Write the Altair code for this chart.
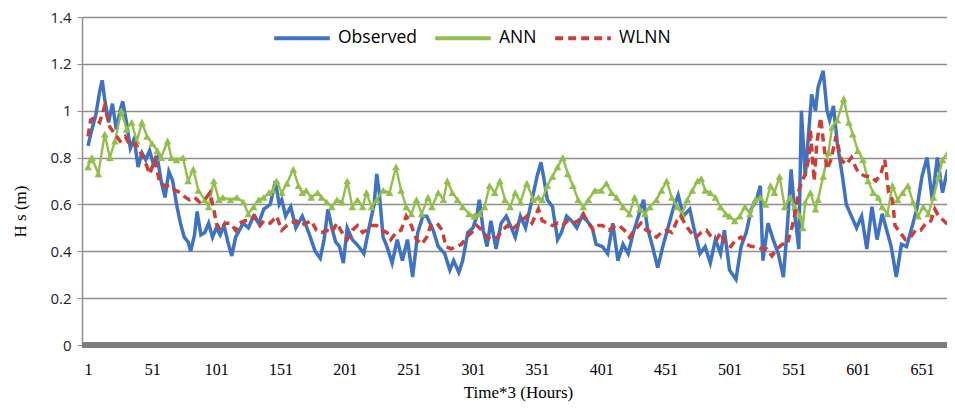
import altair as alt
import pandas as pd

SERIES = ["Observed", "ANN", "WLNN"]
COLORS = ["#3f73c1", "#92bf4c", "#c9403a"]
X_TICKS = [1, 51, 101, 151, 201, 251, 301, 351, 401, 451, 501, 551, 601, 651]
Y_TICKS = [0, 0.2, 0.4, 0.6, 0.8, 1, 1.2, 1.4]

obs_x = [1,4,7,10,12,14,17,20,23,26,28,31,34,37,40,43,46,49,52,55,58,61,64,67,70,73,76,79,81,84,86,89,92,95,98,101,104,107,110,113,116,119,122,126,130,134,138,143,147,150,152,155,159,163,168,173,178,182,185,188,191,194,197,200,203,207,212,216,220,224,226,228,231,234,238,242,246,250,254,258,262,265,270,274,279,283,286,290,293,297,301,304,306,309,312,315,319,323,327,331,334,338,342,347,351,354,356,359,363,367,370,374,378,382,386,390,394,397,402,406,410,414,418,422,426,430,434,437,441,445,449,453,457,461,465,470,474,478,482,486,490,494,497,501,506,510,514,518,522,525,527,531,535,539,543,546,549,552,555,557,560,563,565,568,570,574,577,579,582,585,589,592,596,600,604,608,612,616,620,624,627,631,635,639,643,647,651,655,659,663,667,671,675,678]
obs_y = [0.85,0.92,0.98,1.08,1.13,1.05,0.95,1.03,0.92,1.00,1.04,0.95,0.84,0.88,0.76,0.82,0.79,0.83,0.77,0.80,0.70,0.63,0.74,0.70,0.60,0.52,0.46,0.44,0.40,0.47,0.57,0.47,0.48,0.52,0.46,0.50,0.47,0.51,0.44,0.38,0.46,0.49,0.52,0.50,0.55,0.52,0.58,0.60,0.70,0.60,0.62,0.55,0.59,0.50,0.55,0.48,0.40,0.37,0.45,0.58,0.50,0.44,0.42,0.35,0.50,0.45,0.42,0.39,0.50,0.60,0.73,0.65,0.46,0.42,0.35,0.45,0.36,0.45,0.29,0.48,0.55,0.55,0.49,0.42,0.39,0.32,0.36,0.31,0.36,0.48,0.50,0.55,0.62,0.49,0.42,0.53,0.41,0.52,0.55,0.50,0.46,0.55,0.50,0.62,0.72,0.78,0.72,0.62,0.59,0.45,0.48,0.55,0.53,0.50,0.55,0.53,0.50,0.43,0.42,0.39,0.52,0.36,0.43,0.39,0.48,0.55,0.62,0.50,0.42,0.33,0.42,0.50,0.58,0.64,0.55,0.58,0.48,0.39,0.42,0.35,0.45,0.39,0.49,0.32,0.28,0.42,0.48,0.58,0.62,0.68,0.36,0.52,0.45,0.39,0.29,0.50,0.75,0.55,0.41,1.00,0.72,0.93,1.07,1.00,1.10,1.17,1.00,0.96,1.02,0.86,0.72,0.60,0.55,0.50,0.55,0.41,0.59,0.45,0.56,0.48,0.42,0.29,0.43,0.42,0.50,0.58,0.72,0.80,0.62,0.80,0.65,0.75,0.50,0.60]

ann_x = [1,3,4,9,14,18,22,27,31,35,39,43,47,51,55,58,63,66,70,75,79,83,87,92,95,99,103,106,112,117,122,126,130,134,138,142,145,148,152,156,161,165,168,171,175,180,183,187,191,195,199,203,207,211,215,218,222,226,231,236,241,245,249,253,257,261,266,269,274,278,281,285,289,293,298,302,306,310,314,318,322,326,330,334,338,343,348,352,355,359,363,367,371,375,379,383,387,391,396,401,405,409,413,418,423,427,431,435,439,444,448,452,456,460,464,468,472,476,479,482,486,490,494,498,501,505,509,513,517,521,525,529,533,536,540,544,548,552,556,558,560,564,568,570,574,578,581,585,590,594,597,601,605,609,613,617,620,624,628,632,636,640,644,648,652,656,660,664,667,671,675]
ann_y = [0.76,0.79,0.80,0.73,0.90,0.80,0.87,1.00,0.92,0.95,0.87,0.95,0.89,0.86,0.83,0.80,0.87,0.80,0.79,0.80,0.70,0.75,0.66,0.62,0.59,0.70,0.62,0.63,0.62,0.63,0.61,0.56,0.59,0.62,0.63,0.65,0.66,0.70,0.65,0.69,0.75,0.68,0.65,0.66,0.63,0.65,0.63,0.61,0.59,0.62,0.61,0.70,0.59,0.62,0.59,0.65,0.59,0.62,0.66,0.65,0.76,0.66,0.59,0.56,0.62,0.56,0.63,0.59,0.65,0.62,0.70,0.65,0.62,0.59,0.56,0.55,0.56,0.59,0.68,0.65,0.70,0.62,0.59,0.65,0.61,0.69,0.62,0.63,0.62,0.68,0.72,0.76,0.80,0.73,0.68,0.62,0.59,0.62,0.66,0.66,0.69,0.65,0.63,0.59,0.56,0.63,0.58,0.56,0.59,0.62,0.66,0.70,0.63,0.59,0.56,0.62,0.66,0.70,0.71,0.66,0.65,0.63,0.59,0.56,0.55,0.53,0.55,0.59,0.56,0.62,0.63,0.60,0.68,0.65,0.72,0.59,0.63,0.59,0.55,0.50,0.61,0.65,0.58,0.62,0.72,0.82,0.93,0.96,1.05,0.95,0.90,0.83,0.79,0.70,0.65,0.63,0.59,0.56,0.68,0.62,0.65,0.68,0.61,0.55,0.59,0.56,0.63,0.72,0.79,0.82,0.76]

wl_x = [1,3,6,10,14,18,22,26,30,34,38,42,45,49,53,57,61,65,69,73,77,80,84,88,92,96,99,101,104,108,112,116,119,123,127,131,135,138,143,148,152,156,159,163,167,171,175,179,183,187,191,195,199,203,207,211,215,218,222,226,230,234,237,241,245,249,253,257,261,265,268,273,277,280,284,288,292,296,300,304,308,312,316,320,324,328,331,335,339,343,347,352,355,359,363,367,371,375,379,383,387,391,395,399,402,407,412,415,419,423,427,432,436,440,444,448,452,456,460,463,467,471,475,479,483,487,491,494,498,502,506,510,514,518,522,526,530,534,538,542,546,550,552,555,557,560,563,564,567,569,572,575,577,580,584,588,592,596,600,603,607,611,615,619,622,625,628,630,634,638,642,646,650,654,658,661,664,668,672,676]
wl_y = [0.89,0.96,0.97,0.95,1.02,0.93,0.90,0.87,0.89,0.85,0.86,0.82,0.79,0.73,0.79,0.69,0.68,0.68,0.66,0.65,0.63,0.62,0.63,0.61,0.62,0.65,0.58,0.52,0.49,0.52,0.52,0.49,0.52,0.53,0.53,0.55,0.51,0.53,0.52,0.55,0.49,0.51,0.52,0.53,0.51,0.52,0.53,0.49,0.48,0.49,0.48,0.52,0.48,0.45,0.49,0.51,0.48,0.49,0.51,0.51,0.49,0.48,0.45,0.48,0.49,0.55,0.51,0.45,0.43,0.46,0.51,0.52,0.49,0.42,0.41,0.42,0.43,0.46,0.48,0.51,0.49,0.46,0.45,0.46,0.49,0.51,0.49,0.51,0.53,0.55,0.52,0.58,0.53,0.52,0.51,0.52,0.51,0.53,0.52,0.53,0.56,0.52,0.49,0.51,0.51,0.49,0.51,0.51,0.49,0.46,0.49,0.52,0.49,0.48,0.46,0.48,0.49,0.48,0.53,0.55,0.51,0.48,0.46,0.48,0.49,0.46,0.45,0.48,0.43,0.42,0.45,0.46,0.43,0.42,0.42,0.41,0.41,0.38,0.41,0.43,0.43,0.51,0.56,0.66,0.69,0.73,0.80,0.92,0.70,0.86,0.97,0.83,0.75,0.79,0.89,0.79,0.77,0.80,0.75,0.73,0.72,0.72,0.70,0.73,0.79,0.65,0.62,0.51,0.48,0.45,0.46,0.49,0.49,0.52,0.53,0.58,0.55,0.53,0.51,0.46]

assert len(obs_x) == len(obs_y), (len(obs_x), len(obs_y))
assert len(ann_x) == len(ann_y), (len(ann_x), len(ann_y))
assert len(wl_x) == len(wl_y), (len(wl_x), len(wl_y))

rows = []
for name, xs, ys in [("Observed", obs_x, obs_y), ("ANN", ann_x, ann_y), ("WLNN", wl_x, wl_y)]:
    for a, b in zip(xs, ys):
        rows.append({"series": name, "t": a, "hs": b})
df = pd.DataFrame(rows)

SERIF = "Liberation Serif"
SANS = "Open Sans"

x_enc = alt.X("t:Q", scale=alt.Scale(domain=[-3.7, 670.5], nice=False, zero=False),
              axis=alt.Axis(values=X_TICKS, title="Time*3 (Hours)", domain=False, ticks=False,
                            grid=False, labelFont=SERIF, labelFontSize=16, labelColor="#000",
                            labelPadding=16, titleFont=SERIF, titleFontSize=17,
                            titleFontWeight="normal", titleColor="#000", titleBaseline="middle",
                            titleY=47, titleX=436, labelFlush=False))
y_enc = alt.Y("hs:Q", scale=alt.Scale(domain=[0, 1.4], nice=False, zero=True),
              axis=alt.Axis(values=Y_TICKS, format="~g", title="H s (m)", grid=True,
                            gridColor="#8e8e8e", gridWidth=1.3, domainColor="#8e8e8e",
                            domainWidth=1.5, tickColor="#8e8e8e", tickSize=5,
                            labelFont=SANS, labelFontSize=15, labelColor="#222",
                            labelPadding=6, titleFont=SERIF, titleFontSize=17,
                            titleFontWeight="normal", titleColor="#000", titleX=-62,
                            titleY=194, titleAngle=-90, titleBaseline="middle"))
legend = alt.Legend(orient="none", legendX=190, legendY=-9,
                    direction="horizontal", title=None,
                    symbolType="stroke", symbolSize=3100,
                    symbolStrokeWidth=4, labelFont=SANS,
                    labelFontSize=17.5, labelColor="#000",
                    labelOffset=6, columnPadding=10)
color_enc = alt.Color("series:N", scale=alt.Scale(domain=SERIES, range=COLORS), legend=legend)
dash_enc = alt.StrokeDash("series:N",
                          scale=alt.Scale(domain=SERIES, range=[[1, 0], [1, 0], [8, 5]]),
                          legend=legend)

base = alt.Chart(df)
obs_line = base.transform_filter(alt.datum.series == "Observed").mark_line(
    strokeWidth=3.5, clip=True).encode(x=x_enc, y=y_enc, color=color_enc, strokeDash=dash_enc)
ann_line = base.transform_filter(alt.datum.series == "ANN").mark_line(
    strokeWidth=2.4, clip=True).encode(x=x_enc, y=y_enc, color=color_enc, strokeDash=dash_enc)
ann_pts = base.transform_filter(alt.datum.series == "ANN").mark_point(
    filled=True, opacity=1, clip=True).encode(
    x=x_enc, y=y_enc,
    shape=alt.value("triangle-up"), size=alt.value(60), fill=alt.value(COLORS[1]))
wl_line = base.transform_filter(alt.datum.series == "WLNN").mark_line(
    strokeWidth=3.5, clip=True).encode(x=x_enc, y=y_enc, color=color_enc, strokeDash=dash_enc)

zero_band = alt.Chart(pd.DataFrame({"hs": [0]})).mark_rule(
    color="#7d7d7d", strokeWidth=6).encode(y=y_enc)

chart = alt.layer(zero_band, obs_line, ann_line, ann_pts, wl_line).properties(
    width=865, height=328,
    autosize=alt.AutoSizeParams(type="none"),
    padding={"left": 74, "top": 9, "right": 0, "bottom": 58},
).configure_view(stroke=None)

chart.save("out.html", embed_options={"renderer": "svg", "actions": False})
